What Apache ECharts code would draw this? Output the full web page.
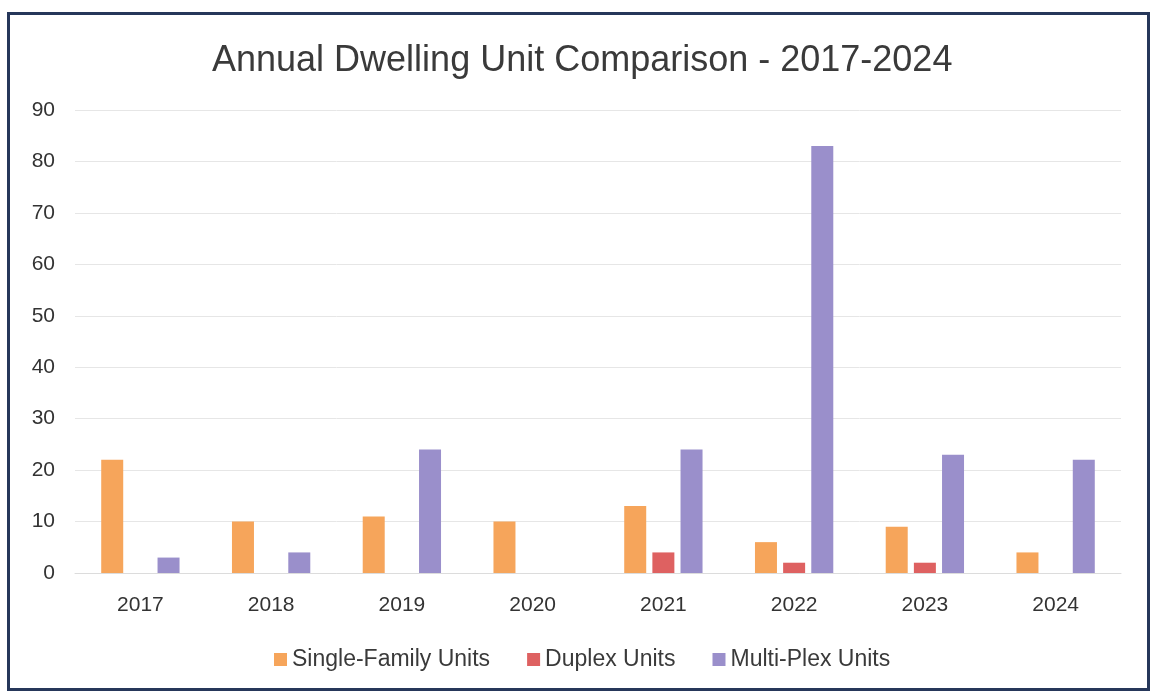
<!DOCTYPE html>
<html>
<head>
<meta charset="utf-8">
<script src="https://cdn.jsdelivr.net/npm/echarts@6/dist/echarts.min.js"></script>
<style>
  html, body { margin: 0; padding: 0; background: #fff; }
  #chart { width: 1151px; height: 692px; }
</style>
</head>
<body>
<div id="chart"></div>
<script>
// Yearly permit counts by dwelling type
const years = ['2017', '2018', '2019', '2020', '2021', '2022', '2023', '2024'];
const singleFamily = [22, 10, 11, 10, 13, 6, 9, 4];
const duplex = [0, 0, 0, 0, 4, 2, 2, 0];
const multiPlex = [3, 4, 24, 0, 24, 83, 23, 22];
const yTicks = { min: 0, max: 90, interval: 10 };

const colors = { single: '#F6A55B', duplex: '#DE6161', multi: '#9A8FCB' };
const font = 'Liberation Sans, Arial, sans-serif';

const chart = echarts.init(document.getElementById('chart'), null, { renderer: 'canvas' });

function barSeries(name, data, color) {
  return {
    name: name,
    type: 'bar',
    data: data,
    barWidth: 22,
    barGap: '28%',
    itemStyle: { color: color },
    emphasis: { disabled: true }
  };
}

chart.setOption({
  backgroundColor: '#ffffff',
  animation: false,
  graphic: [{
    type: 'rect',
    shape: { x: 8.5, y: 13.5, width: 1140, height: 676 },
    style: { fill: 'none', stroke: '#26375A', lineWidth: 3 },
    silent: true,
    z: 100
  }],
  title: {
    text: 'Annual Dwelling Unit Comparison - 2017-2024',
    left: 207,
    top: 38,
    textStyle: { fontFamily: font, fontSize: 36, fontWeight: 'normal', color: '#3a3a3a' }
  },
  legend: {
    bottom: 16,
    left: 269,
    itemWidth: 13,
    itemHeight: 13,
    itemGap: 37,
    icon: 'rect',
    textStyle: { fontFamily: font, fontSize: 23, color: '#3a3a3a' },
    data: ['Single-Family Units', 'Duplex Units', 'Multi-Plex Units']
  },
  grid: { left: 75, right: 30, top: 110, bottom: 119, containLabel: false },
  xAxis: {
    type: 'category',
    data: years,
    axisLine: { show: true, lineStyle: { color: '#dcdcdc', width: 1 } },
    axisTick: { show: false },
    axisLabel: { fontFamily: font, fontSize: 21, color: '#333', margin: 22 }
  },
  yAxis: {
    type: 'value',
    min: yTicks.min,
    max: yTicks.max,
    interval: yTicks.interval,
    axisLine: { show: false },
    axisTick: { show: false },
    splitLine: { lineStyle: { color: '#e6e6e6', width: 1 } },
    axisLabel: { fontFamily: font, fontSize: 21, color: '#333', margin: 20 }
  },
  series: [
    barSeries('Single-Family Units', singleFamily, colors.single),
    barSeries('Duplex Units', duplex, colors.duplex),
    barSeries('Multi-Plex Units', multiPlex, colors.multi)
  ]
});
</script>
</body>
</html>
